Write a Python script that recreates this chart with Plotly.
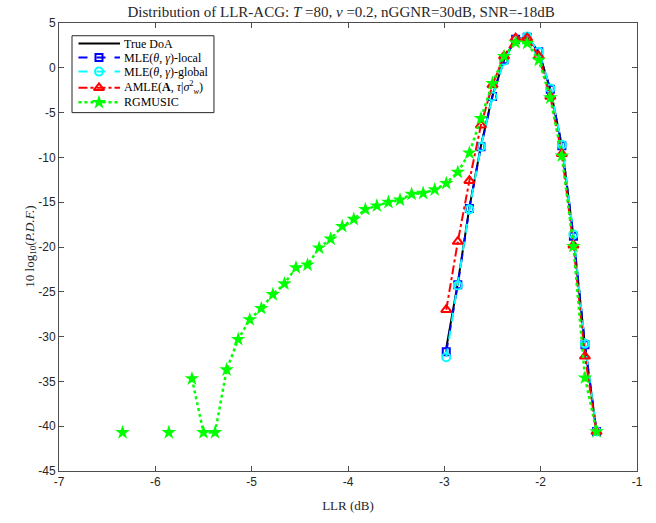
import plotly.graph_objects as go

# Histogram bin centres of the LLR (dB)
llr_bins = [-6.34, -6.22, -6.10, -5.98, -5.86, -5.74, -5.62, -5.50, -5.38, -5.26,
            -5.14, -5.02, -4.90, -4.78, -4.66, -4.54, -4.42, -4.30, -4.18, -4.06,
            -3.94, -3.82, -3.70, -3.58, -3.46, -3.34, -3.22, -3.10, -2.98, -2.86,
            -2.74, -2.62, -2.50, -2.38, -2.26, -2.14, -2.02, -1.90, -1.78, -1.66,
            -1.54, -1.42]
# bins where the DoA-based estimators have mass
llr_bins_peak = llr_bins[28:]

# 10 log10 of the estimated PDF; None marks empty bins
pdf_true = [-31.3, -24.0, -15.6, -8.7, -3.1, 0.9, 3.2, 3.4, 1.8, -2.4, -8.7, -18.8, -31.0, -40.6]
pdf_mle_local = [-31.7, -24.2, -15.7, -8.8, -3.2, 0.9, 3.2, 3.4, 1.8, -2.4, -8.7, -18.8, -30.9, -40.6]
pdf_mle_global = [-32.3, -24.3, -15.8, -8.8, -3.2, 0.8, 3.1, 3.5, 1.8, -2.3, -8.6, -18.6, -30.8, -40.6]
pdf_amle = [-27.0, -19.4, -12.6, -6.4, -1.9, 1.3, 3.3, 3.3, 1.3, -3.2, -9.6, -19.8, -32.2, -40.6]
pdf_rgmusic = [-40.7, None, None, None, -40.7, None, -34.7, -40.7, -40.7, -33.7,
               -30.3, -28.1, -26.85, -25.3, -24.1, -22.3, -22.0, -20.1, -19.1, -17.7,
               -16.9, -15.8, -15.4, -15.0, -14.75, -14.1, -14.0, -13.6, -12.9, -11.65,
               -9.5, -5.64, -1.74, 1.28, 2.81, 2.75, 0.85, -3.34, -9.83, -19.93,
               -34.6, -40.6]

x_ticks = [-7, -6, -5, -4, -3, -2, -1]
y_ticks = [-45, -40, -35, -30, -25, -20, -15, -10, -5, 0, 5]

serif = "Liberation Serif, DejaVu Serif, serif"
sans = "Liberation Sans, Arial, sans-serif"
ink = "#262626"

# one entry per series: name, colour, dash, marker symbol, marker size, y data, x data
series = [
    ("True DoA", "black", "solid", None, 0, pdf_true, llr_bins_peak),
    ("MLE(<i>θ</i>, <i>γ</i>)-local", "#0000ff", "dash", "square-open", 7,
     pdf_mle_local, llr_bins_peak),
    ("MLE(<i>θ</i>, <i>γ</i>)-global", "#00ffff", "dash", "circle-open", 8,
     pdf_mle_global, llr_bins_peak),
    ("AMLE(<b>A</b>, <i>τ</i>|<i>σ</i><sup>2</sup><sub><i>w</i></sub>)", "#ff0000",
     "dashdot", "triangle-up-open", 9, pdf_amle, llr_bins_peak),
    ("RGMUSIC", "#00ff00", "dot", "star", 11, pdf_rgmusic, llr_bins),
]


def marker_style(color, symbol, size):
    if symbol is None:
        return None
    if symbol == "star":
        return dict(symbol=symbol, size=size, color=color, line=dict(width=0))
    return dict(symbol=symbol, size=size, color=color, line=dict(width=2, color=color))


fig = go.Figure()
for name, color, dash, symbol, size, ys, xs in series:
    width = 2.5 if dash == "dot" else 2
    fig.add_trace(go.Scatter(
        x=xs, y=ys, name=name, showlegend=False,
        mode="lines" if symbol is None else "lines+markers",
        line=dict(color=color, width=width, dash=dash),
        marker=marker_style(color, symbol, size)))

# Legend drawn in pixel units of the plotting area (overlay axes, y pointing down)
PW, PH = 578.2, 457.3
box_x0, box_x1, box_y0, box_y1 = 13.0, 155.0, 13.0, 91.5
row_y = [21.0, 35.3, 49.6, 66.2, 81.0]
key_x0, key_x1, key_mid, text_x = 19.5, 61.0, 40.0, 63.5

fig.add_trace(go.Scatter(
    x=[box_x0, box_x1, box_x1, box_x0, box_x0], y=[box_y0, box_y0, box_y1, box_y1, box_y0],
    xaxis="x2", yaxis="y2", mode="lines", fill="toself", fillcolor="white",
    line=dict(color=ink, width=1), showlegend=False, hoverinfo="skip"))

annotations = []
for (name, color, dash, symbol, size, _ys, _xs), ry in zip(series, row_y):
    width = 2.5 if dash == "dot" else 2
    fig.add_trace(go.Scatter(
        x=[key_x0, key_x1], y=[ry, ry], xaxis="x2", yaxis="y2", mode="lines",
        line=dict(color=color, width=width, dash=dash), showlegend=False, hoverinfo="skip"))
    if symbol is not None:
        fig.add_trace(go.Scatter(
            x=[key_mid], y=[ry], xaxis="x2", yaxis="y2", mode="markers",
            marker=marker_style(color, symbol, size), showlegend=False, hoverinfo="skip"))
    annotations.append(dict(
        x=text_x, y=ry, xref="x2", yref="y2", text=name, showarrow=False,
        xanchor="left", yanchor="middle",
        font=dict(family=serif, size=12, color="black")))

# y axis title placed beside the tick labels
annotations.append(dict(
    x=-29.3 / PW, y=0.5, xref="paper", yref="paper", textangle=-90,
    text="10 log<sub>10</sub>(<i>P.D.F.</i>)", showarrow=False,
    xanchor="center", yanchor="middle",
    font=dict(family=serif, size=13, color=ink)))

axis_common = dict(
    showline=True, linecolor="#4d4d4d", linewidth=1, mirror="ticks",
    ticks="inside", ticklen=5, tickcolor="#4d4d4d", showgrid=False, zeroline=False,
    tickfont=dict(family=sans, size=12, color=ink))

fig.update_xaxes(range=[-7, -1], tickvals=x_ticks, ticktext=[str(v) for v in x_ticks],
                 title=dict(text="LLR (dB)", font=dict(family=serif, size=13, color=ink),
                            standoff=12),
                 **axis_common)
fig.update_yaxes(range=[-45, 5], tickvals=y_ticks, ticktext=[str(v) for v in y_ticks],
                 **axis_common)

fig.update_layout(
    width=656, height=523,
    margin=dict(l=59, r=19, t=23, b=43),
    paper_bgcolor="white", plot_bgcolor="white",
    xaxis2=dict(overlaying="x", range=[0, PW], visible=False, fixedrange=True),
    yaxis2=dict(overlaying="y", range=[PH, 0], visible=False, fixedrange=True),
    title=dict(text="Distribution of LLR-ACG: <i>T</i> =80, <i>ν</i> =0.2, nGGNR=30dB, SNR=-18dB",
               font=dict(family=serif, size=15, color=ink),
               x=0.52, xanchor="center", y=0.988, yanchor="top"),
    annotations=annotations,
    showlegend=False,
)

fig.write_html("out.html")
